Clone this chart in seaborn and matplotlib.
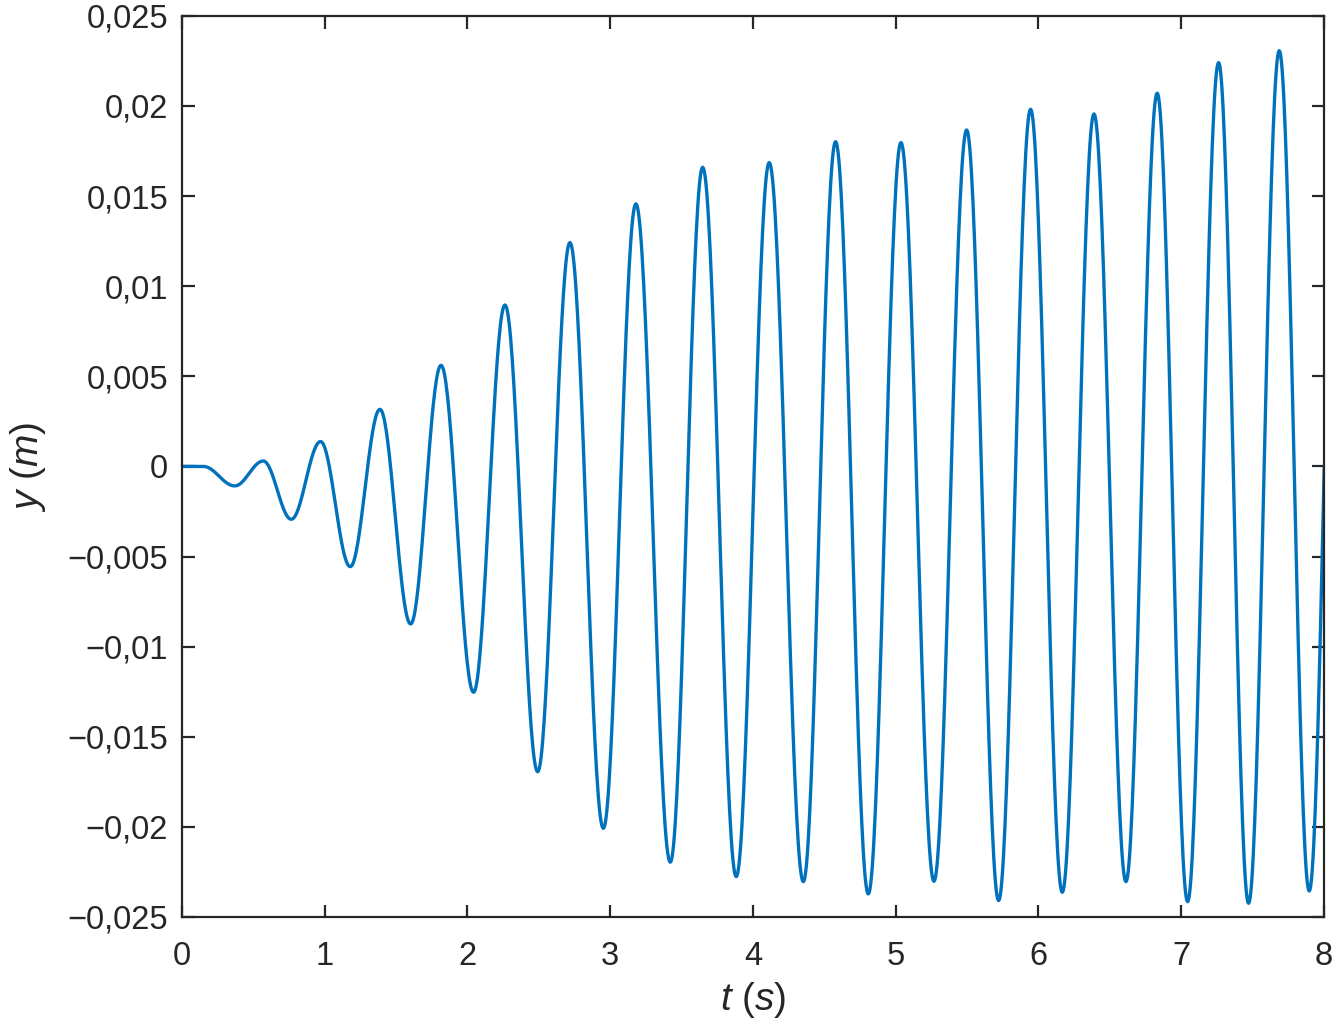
import numpy as np
import pandas as pd
import matplotlib
matplotlib.use("Agg")
import matplotlib.pyplot as plt
from matplotlib.ticker import FuncFormatter, FixedLocator
import seaborn as sns

OUTPUT_FILE = "out.png"

# extrema of the response (time in s, displacement in m)
peak_times = [0.0, 0.15, 0.37, 0.57, 0.766, 0.971, 1.179, 1.387, 1.602, 1.815,
              2.043, 2.263, 2.492, 2.718, 2.952, 3.180, 3.421, 3.648, 3.883, 4.114,
              4.353, 4.579, 4.808, 5.037, 5.268, 5.497, 5.721, 5.945, 6.167, 6.389,
              6.613, 6.832, 7.045, 7.262, 7.472, 7.687, 7.897, 8.107]
peak_values = [0.0, 0.0, -0.00108, 0.0003, -0.00293, 0.00138, -0.00556, 0.00317, -0.00874, 0.00561,
               -0.01253, 0.00896, -0.01694, 0.01242, -0.02008, 0.01457, -0.02196, 0.01660, -0.02276, 0.01686,
               -0.02304, 0.01802, -0.02372, 0.01797, -0.02302, 0.01867, -0.02409, 0.01982, -0.02363, 0.01956,
               -0.02304, 0.02071, -0.02415, 0.02241, -0.02424, 0.02307, -0.02356, 0.0235]

x_ticks = [0, 1, 2, 3, 4, 5, 6, 7, 8]
y_ticks = [-0.025, -0.02, -0.015, -0.01, -0.005, 0, 0.005, 0.01, 0.015, 0.02, 0.025]


def build_curve(times, values, n=40):
    """Join consecutive extrema with half-cosine arcs so the trace looks smooth."""
    ts, ys = [], []
    s = np.linspace(0, 1, n, endpoint=False)
    for i in range(len(times) - 1):
        t0, t1 = times[i], times[i + 1]
        y0, y1 = values[i], values[i + 1]
        ts.extend(t0 + (t1 - t0) * s)
        ys.extend(y0 + (y1 - y0) * (1 - np.cos(np.pi * s)) / 2)
    ts.append(times[-1])
    ys.append(values[-1])
    return pd.DataFrame({"t": ts, "y": ys})


def comma_fmt(v, pos):
    if abs(v) < 1e-12:
        return "0"
    txt = f"{abs(v):.3f}".rstrip("0").rstrip(".").replace(".", ",")
    return ("\u2212" if v < 0 else "") + txt


sns.set_style("ticks")
plt.rcParams["font.family"] = ["Liberation Sans", "DejaVu Sans"]
plt.rcParams["mathtext.fontset"] = "custom"
plt.rcParams["mathtext.it"] = "Liberation Sans:italic"
plt.rcParams["mathtext.rm"] = "Liberation Sans"

df = build_curve(peak_times, peak_values)

fig = plt.figure(figsize=(13.33, 10.24), dpi=100)
ax = fig.add_axes([0.1365, 0.1045, 0.8567, 0.88])

sns.lineplot(data=df, x="t", y="y", ax=ax, color="#0072BD", linewidth=2.4,
             sort=False, estimator=None)

ax.set_xlim(0, 8)
ax.set_ylim(-0.025, 0.025)
ax.xaxis.set_major_locator(FixedLocator(x_ticks))
ax.yaxis.set_major_locator(FixedLocator(y_ticks))
ax.yaxis.set_major_formatter(FuncFormatter(comma_fmt))
ax.xaxis.set_major_formatter(FuncFormatter(lambda v, p: f"{v:g}"))

dark = "#262626"
for side in ["left", "right", "top", "bottom"]:
    ax.spines[side].set_visible(True)
    ax.spines[side].set_color(dark)
    ax.spines[side].set_linewidth(1.6)
ax.tick_params(direction="in", length=9, width=1.6, colors=dark, labelsize=23.5,
               top=True, right=True)
ax.tick_params(axis="x", pad=17)
ax.tick_params(axis="y", pad=10)

ax.set_xlabel(r"$\mathit{t}$ ($\mathit{s}$)", fontsize=28, color=dark, labelpad=6)
ax.set_ylabel(r"$\mathit{y}$ ($\mathit{m}$)", fontsize=28, color=dark)
ax.yaxis.set_label_coords(-0.117, 0.5)
ax.grid(False)

fig.savefig(OUTPUT_FILE, dpi=100)
plt.close(fig)
print(f"Saved plot to {OUTPUT_FILE}")
